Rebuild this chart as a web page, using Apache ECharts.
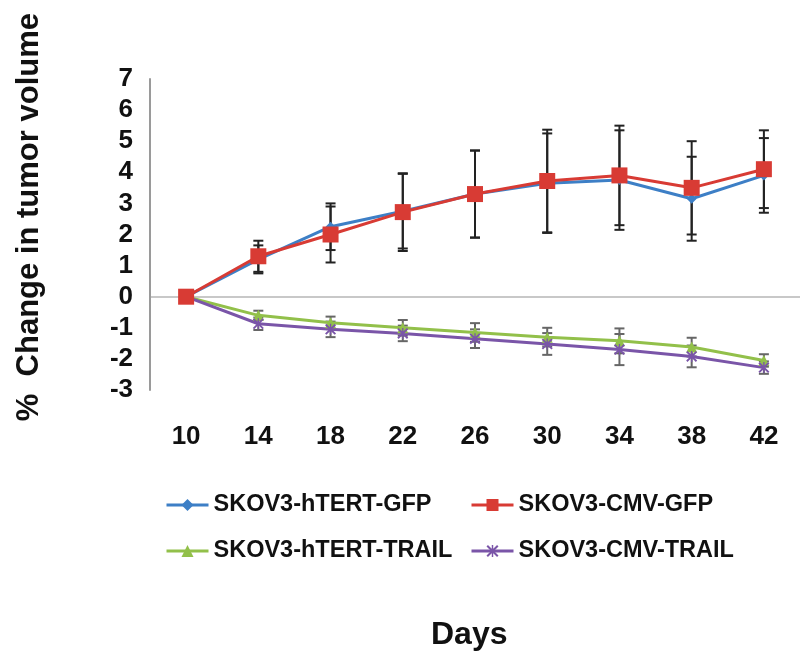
<!DOCTYPE html>
<html>
<head>
<meta charset="utf-8">
<script src="https://cdn.jsdelivr.net/npm/echarts@6/dist/echarts.min.js"></script>
<style>
html,body{margin:0;padding:0;background:#fff;}
#chart{width:800px;height:656px;}
</style>
</head>
<body>
<div id="chart"></div>
<script>
const days = ['10','14','18','22','26','30','34','38','42'];
const yTicks = [-3,-2,-1,0,1,2,3,4,5,6,7];

const htertGfp = [0, 1.2, 2.25, 2.75, 3.3, 3.65, 3.75, 3.15, 3.9];
const htertGfpErr = [0, 0.45, 0.75, 1.2, 1.4, 1.6, 1.6, 1.35, 1.2];
const cmvGfp = [0, 1.3, 2.0, 2.72, 3.3, 3.72, 3.9, 3.5, 4.1];
const cmvGfpErr = [0, 0.5, 0.9, 1.25, 1.4, 1.65, 1.6, 1.5, 1.25];
const htertTrail = [0, -0.6, -0.84, -1.0, -1.15, -1.3, -1.42, -1.62, -2.05];
const htertTrailErr = [0, 0.15, 0.2, 0.25, 0.3, 0.3, 0.4, 0.3, 0.2];
const cmvTrail = [0, -0.87, -1.05, -1.18, -1.35, -1.52, -1.7, -1.92, -2.28];
const cmvTrailErr = [0, 0.2, 0.25, 0.25, 0.3, 0.35, 0.5, 0.35, 0.2];

const names = ['SKOV3-hTERT-GFP','SKOV3-CMV-GFP','SKOV3-hTERT-TRAIL','SKOV3-CMV-TRAIL'];
const colors = ['#3d7fc6','#d83b34','#92c04a','#7a55a8'];

const starPath = 'path://M0,1.2L1.2,0L5,3.8L8.8,0L10,1.2L6.2,5L10,8.8L8.8,10L5,6.2L1.2,10L0,8.8L3.8,5Z M4.4,0L5.6,0L5.6,10L4.4,10Z';

function errData(vals, errs){
  return vals.map((v,i)=>[i, v, errs[i]]);
}
function errSeries(vals, errs, color){
  return {
    type:'custom', silent:true, z:1,
    data: errData(vals, errs),
    encode:{x:0, y:1},
    renderItem: function(params, api){
      const i = api.value(0), v = api.value(1), e = api.value(2);
      if (!e) return null;
      const t = api.coord([i, v+e]), b = api.coord([i, v-e]);
      const w = 5;
      const st = {stroke: color, lineWidth: 2};
      return {type:'group', children:[
        {type:'line', shape:{x1:t[0],y1:t[1],x2:b[0],y2:b[1]}, style:st},
        {type:'line', shape:{x1:t[0]-w,y1:t[1],x2:t[0]+w,y2:t[1]}, style:st},
        {type:'line', shape:{x1:b[0]-w,y1:b[1],x2:b[0]+w,y2:b[1]}, style:st}
      ]};
    }
  };
}

const legendFont = {fontFamily:'Liberation Sans, Arial, sans-serif', fontWeight:'bold', fontSize:23.5, color:'#111'};
function legendAt(name, left, top){
  return {data:[name], left:left, top:top, padding:0, itemWidth:42, itemHeight:15,
    lineStyle:{width:3}, textStyle:legendFont, selectedMode:false};
}

const chart = echarts.init(document.getElementById('chart'));
chart.setOption({
  animation:false,
  backgroundColor:'#fff',
  grid:{left:150, top:79, width:666, height:311, containLabel:false},
  xAxis:{
    type:'category', data:days, boundaryGap:true,
    axisLine:{show:false}, axisTick:{show:false}, splitLine:{show:false},
    axisLabel:{margin:34, fontFamily:'Liberation Sans, Arial, sans-serif', fontWeight:'bold', fontSize:26, color:'#111'}
  },
  yAxis:{
    type:'value', min:yTicks[0], max:yTicks[yTicks.length-1], interval:1,
    axisLine:{show:true, lineStyle:{color:'#9a9a9a', width:2}},
    axisTick:{show:false}, splitLine:{show:false},
    axisLabel:{margin:17, fontFamily:'Liberation Sans, Arial, sans-serif', fontWeight:'bold', fontSize:26, color:'#111'}
  },
  legend:[
    legendAt(names[0],165,493),
    legendAt(names[1],470,493),
    legendAt(names[2],165,539),
    legendAt(names[3],470,539)
  ],
  graphic:[
    {type:'text', left:14, top:13, rotation:Math.PI/2,
      style:{text:'%  Change in tumor volume', font:'bold 31px "Liberation Sans", Arial, sans-serif', fill:'#111'}},
    {type:'text', left:431, top:619,
      style:{text:'Days', font:'bold 32px "Liberation Sans", Arial, sans-serif', fill:'#111'}}
  ],
  series:[
    errSeries(htertGfp, htertGfpErr, '#222'),
    errSeries(cmvGfp, cmvGfpErr, '#222'),
    errSeries(htertTrail, htertTrailErr, '#666'),
    errSeries(cmvTrail, cmvTrailErr, '#666'),
    {name:names[0], type:'line', data:htertGfp, z:3, color:colors[0],
      symbol:'diamond', symbolSize:10, lineStyle:{width:3, color:colors[0]}, itemStyle:{color:colors[0]},
      markLine:{silent:true, symbol:'none', label:{show:false}, lineStyle:{color:'#c8c8c8', width:2, type:'solid'}, data:[{yAxis:0}], z:0}},
    {name:names[1], type:'line', data:cmvGfp, z:4, color:colors[1],
      symbol:'rect', symbolSize:16, lineStyle:{width:3, color:colors[1]}, itemStyle:{color:colors[1]}},
    {name:names[2], type:'line', data:htertTrail, z:3, color:colors[2],
      symbol:'triangle', symbolSize:11, lineStyle:{width:3, color:colors[2]}, itemStyle:{color:colors[2]}},
    {name:names[3], type:'line', data:cmvTrail, z:3, color:colors[3],
      symbol:starPath, symbolSize:11, lineStyle:{width:3, color:colors[3]}, itemStyle:{color:colors[3]}}
  ]
});
</script>
</body>
</html>
